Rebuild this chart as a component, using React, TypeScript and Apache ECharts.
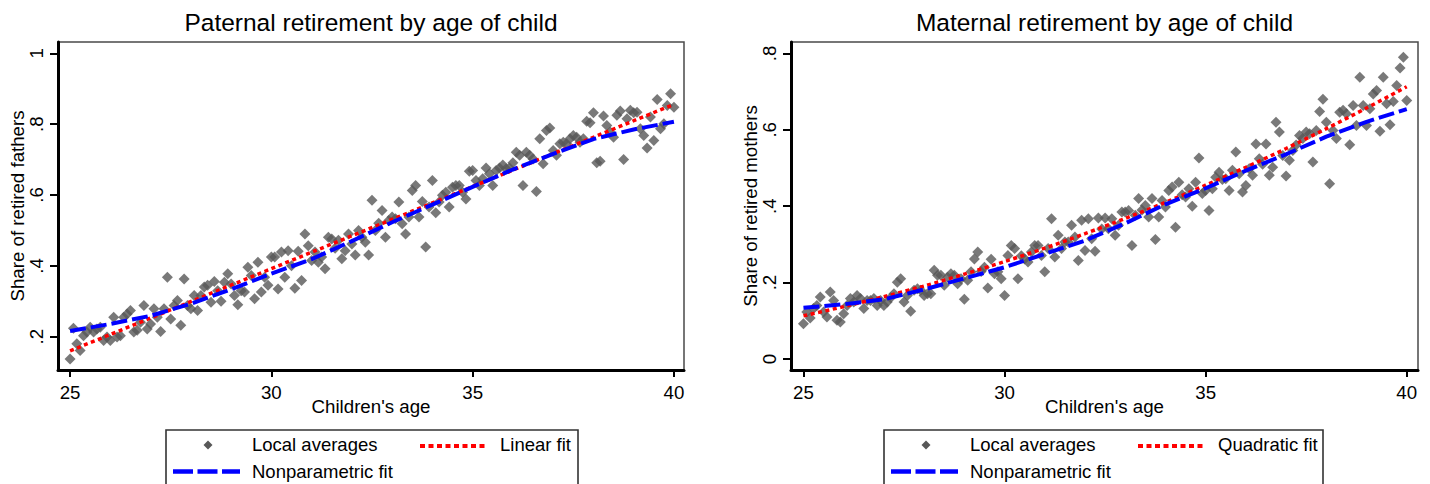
import React, { useEffect, useRef } from "react";
import * as echarts from "echarts";

// ---------- data ----------
// children's age grid (monthly, 25 .. 40)
const ages: number[] = Array.from({ length: 181 }, (_, i) => 25 + i / 12);

const fathersLocalAvg = [
  0.137, 0.224, 0.18, 0.161, 0.203, 0.213, 0.227, 0.213, 0.222, 0.227, 0.189, 0.199,
  0.189, 0.255, 0.199, 0.203, 0.255, 0.264, 0.274, 0.213, 0.218, 0.241, 0.288, 0.222, 0.236,
  0.279, 0.255, 0.215, 0.279, 0.368, 0.25, 0.288, 0.302, 0.232, 0.363, 0.288, 0.279,
  0.316, 0.274, 0.316, 0.34, 0.345, 0.297, 0.356, 0.33, 0.3, 0.354, 0.378, 0.349,
  0.316, 0.29, 0.33, 0.326, 0.396, 0.373, 0.307, 0.41, 0.326, 0.368, 0.345, 0.425,
  0.425, 0.335, 0.439, 0.368, 0.443, 0.4, 0.337, 0.441, 0.359, 0.49, 0.457, 0.415,
  0.439, 0.41, 0.425, 0.392, 0.481, 0.476, 0.45, 0.472, 0.42, 0.443, 0.49, 0.462,
  0.431, 0.5, 0.481, 0.467, 0.431, 0.585, 0.5, 0.52, 0.556, 0.481, 0.528, 0.538,
  0.533, 0.58, 0.519, 0.49, 0.538, 0.613, 0.627, 0.538, 0.582, 0.453, 0.566, 0.641,
  0.55, 0.58, 0.599, 0.608, 0.566, 0.622, 0.627, 0.627, 0.608, 0.589, 0.667, 0.669,
  0.641, 0.627, 0.646, 0.676, 0.66, 0.627, 0.669, 0.676, 0.685, 0.674, 0.676, 0.691,
  0.721, 0.712, 0.627, 0.721, 0.712, 0.702, 0.61, 0.759, 0.688, 0.782, 0.789, 0.726,
  0.712, 0.745, 0.749, 0.745, 0.759, 0.768, 0.763, 0.749, 0.759, 0.808, 0.804, 0.832,
  0.691, 0.695, 0.823, 0.796, 0.778, 0.763, 0.825, 0.837, 0.7, 0.815, 0.839, 0.832,
  0.834, 0.787, 0.768, 0.733, 0.82, 0.754, 0.87, 0.787, 0.801, 0.853, 0.886, 0.848,
];

const mothersLocalAvg = [
  0.092, 0.123, 0.107, 0.132, 0.14, 0.162, 0.123, 0.11, 0.175, 0.153, 0.101, 0.097,
  0.118, 0.14, 0.158, 0.149, 0.166, 0.158, 0.132, 0.153, 0.153, 0.158, 0.14, 0.153,
  0.14, 0.149, 0.16, 0.171, 0.201, 0.21, 0.149, 0.166, 0.125, 0.18, 0.184, 0.18,
  0.166, 0.171, 0.171, 0.232, 0.219, 0.219, 0.193, 0.214, 0.223, 0.219, 0.197, 0.21,
  0.156, 0.206, 0.228, 0.262, 0.28, 0.229, 0.24, 0.186, 0.261, 0.223, 0.228, 0.21,
  0.166, 0.271, 0.297, 0.289, 0.21, 0.27, 0.262, 0.254, 0.28, 0.297, 0.297, 0.271,
  0.228, 0.289, 0.367, 0.267, 0.324, 0.289, 0.306, 0.306, 0.35, 0.319, 0.258, 0.363,
  0.284, 0.367, 0.315, 0.282, 0.369, 0.34, 0.369, 0.341, 0.367, 0.324, 0.35, 0.385,
  0.385, 0.389, 0.297, 0.376, 0.42, 0.39, 0.402, 0.372, 0.42, 0.313, 0.372, 0.415,
  0.398, 0.441, 0.45, 0.345, 0.463, 0.43, 0.424, 0.446, 0.4, 0.463, 0.526, 0.433,
  0.441, 0.389, 0.446, 0.476, 0.489, 0.47, 0.472, 0.441, 0.494, 0.542, 0.485, 0.437,
  0.454, 0.498, 0.481, 0.563, 0.524, 0.51, 0.563, 0.481, 0.502, 0.62, 0.594, 0.533,
  0.479, 0.52, 0.546, 0.56, 0.585, 0.577, 0.594, 0.59, 0.516, 0.598, 0.648, 0.68,
  0.62, 0.459, 0.598, 0.577, 0.646, 0.651, 0.642, 0.561, 0.664, 0.611, 0.738, 0.664, 0.611,
  0.655, 0.694, 0.703, 0.596, 0.738, 0.668, 0.613, 0.674, 0.716, 0.762, 0.79, 0.677,
];

const fitAges = [25, 26, 27, 28, 29, 30, 31, 32, 33, 34, 35, 36, 37, 38, 39, 40];
const fathersNonparametric = [
  0.216, 0.236, 0.259, 0.293, 0.334, 0.378, 0.419, 0.47, 0.523, 0.573, 0.623, 0.672, 0.716, 0.758, 0.785, 0.807,
];
const mothersNonparametric = [
  0.134, 0.143, 0.156, 0.182, 0.211, 0.24, 0.275, 0.31, 0.355, 0.405, 0.447, 0.493, 0.536, 0.582, 0.621, 0.654,
];
const linearFitAges = [25, 40];
const fathersLinearFit = [0.16, 0.856];
const mothersQuadraticFit = [
  0.113, 0.137, 0.163, 0.191, 0.222, 0.255, 0.29, 0.328, 0.368, 0.41, 0.455, 0.502, 0.551, 0.603, 0.657, 0.713,
];

const xTickValues = [25, 30, 35, 40];
const fathersYTicks = [0.2, 0.4, 0.6, 0.8, 1];
const mothersYTicks = [0, 0.2, 0.4, 0.6, 0.8];

const leftTitle = "Paternal retirement by age of child";
const rightTitle = "Maternal retirement by age of child";
const xTitle = "Children's age";
const fathersYTitle = "Share of retired fathers";
const mothersYTitle = "Share of retired mothers";
const legendLocal = "Local averages";
const legendNonparam = "Nonparametric fit";
const legendLinear = "Linear fit";
const legendQuadratic = "Quadratic fit";

// ---------- styling ----------
const FONT = "'Liberation Sans', Arial, Helvetica, sans-serif";
const MARKER = "#585858";
const RED = "#ff0000";
const BLUE = "#0000ff";

const tickFmt = (v: any) => {
  const s = Number(v).toFixed(1);
  if (s === "0.0") return "0";
  if (s === "1.0") return "1";
  return s.replace(/^0/, "");
};

function makeX(gridIndex: number, min: number, max: number) {
  return {
    type: "value",
    gridIndex,
    min,
    max,
    name: xTitle,
    nameLocation: "middle",
    nameGap: 27,
    nameMoveOverlap: false,
    nameTextStyle: { fontFamily: FONT, fontSize: 18.7, color: "#000" },
    axisLine: { show: true, onZero: false, lineStyle: { color: "#000", width: 3 } },
    axisTick: { show: true, customValues: xTickValues, length: 7, lineStyle: { color: "#000", width: 2 } },
    axisLabel: {
      show: true,
      customValues: xTickValues,
      fontFamily: FONT,
      fontSize: 18.7,
      color: "#000",
      margin: 13,
    },
    splitLine: { show: false },
  };
}

function makeY(gridIndex: number, min: number, max: number, ticks: number[], name: string) {
  return {
    type: "value",
    gridIndex,
    min,
    max,
    name,
    nameLocation: "middle",
    nameGap: 31,
    nameRotate: 90,
    nameMoveOverlap: false,
    nameTextStyle: { fontFamily: FONT, fontSize: 18.7, color: "#000" },
    axisLine: { show: true, onZero: false, lineStyle: { color: "#000", width: 3 } },
    axisTick: { show: true, customValues: ticks, length: 8, lineStyle: { color: "#000", width: 2 } },
    axisLabel: {
      show: true,
      customValues: ticks,
      rotate: 90,
      formatter: tickFmt,
      fontFamily: FONT,
      fontSize: 18.7,
      color: "#000",
      margin: 12,
    },
    splitLine: { show: false },
  };
}

function txt(text: string, x: number, y: number, size: number, align = "left") {
  return {
    type: "text",
    x,
    y,
    silent: true,
    style: {
      text,
      fill: "#000",
      fontFamily: FONT,
      fontSize: size,
      align,
      textAlign: align,
      verticalAlign: "middle",
      textVerticalAlign: "middle",
    },
  };
}

function legendGraphics(x0: number, width: number, fitLabel: string) {
  const cx = x0 + 42;
  const cy = 445;
  return [
    {
      type: "rect",
      shape: { x: x0, y: 430, width, height: 80 },
      style: { fill: "#fff", stroke: "#333", lineWidth: 1.6 },
      silent: true,
    },
    {
      type: "polygon",
      shape: { points: [[cx, cy - 4.5], [cx + 4.5, cy], [cx, cy + 4.5], [cx - 4.5, cy]] },
      style: { fill: MARKER },
      silent: true,
    },
    txt(legendLocal, x0 + 86, 444.5, 18.5),
    {
      type: "line",
      shape: { x1: x0 + 254, y1: 446, x2: x0 + 322, y2: 446 },
      style: { stroke: RED, lineWidth: 4, lineDash: [5, 3.5] },
      silent: true,
    },
    txt(fitLabel, x0 + 334, 444.5, 18.5),
    {
      type: "line",
      shape: { x1: x0 + 7, y1: 471.5, x2: x0 + 74, y2: 471.5 },
      style: { stroke: BLUE, lineWidth: 4.5, lineDash: [20, 4.5] },
      silent: true,
    },
    txt(legendNonparam, x0 + 86, 471.5, 18.5),
  ];
}

export default function App() {
  const ref = useRef<HTMLDivElement>(null);

  useEffect(() => {
    if (!ref.current) return;
    const chart = echarts.init(ref.current, undefined, { renderer: "svg" });

    const scatter = (xi: number, values: number[]) => ({
      type: "scatter",
      xAxisIndex: xi,
      yAxisIndex: xi,
      symbol: "diamond",
      symbolSize: 11,
      itemStyle: { color: MARKER },
      data: ages.map((a, i) => [a, values[i]]),
      z: 2,
    });
    const fitLine = (xi: number, xs: number[], ys: number[], color: string, width: number, dash: number[], smooth: boolean | number, z: number) => ({
      type: "line",
      xAxisIndex: xi,
      yAxisIndex: xi,
      symbol: "none",
      smooth,
      lineStyle: { color, width, type: dash, cap: "butt" },
      data: xs.map((a, i) => [a, ys[i]]),
      z,
    });

    chart.setOption({
      animation: false,
      backgroundColor: "#fff",
      grid: [
        { left: 58, top: 42, width: 626, height: 328, show: true, borderColor: "#4a4a4a", borderWidth: 1.5, backgroundColor: "transparent" },
        { left: 791, top: 42, width: 627, height: 328, show: true, borderColor: "#4a4a4a", borderWidth: 1.5, backgroundColor: "transparent" },
      ],
      xAxis: [makeX(0, 24.7, 40.25), makeX(1, 24.69, 40.28)],
      yAxis: [
        makeY(0, 0.106, 1.032, fathersYTicks, fathersYTitle),
        makeY(1, -0.029, 0.83, mothersYTicks, mothersYTitle),
      ],
      series: [
        scatter(0, fathersLocalAvg),
        fitLine(0, linearFitAges, fathersLinearFit, RED, 3.5, [4, 3.5], false, 3),
        fitLine(0, fitAges, fathersNonparametric, BLUE, 4, [16, 5], false, 4),
        scatter(1, mothersLocalAvg),
        fitLine(1, fitAges, mothersQuadraticFit, RED, 3.5, [4, 3.5], 0.3, 3),
        fitLine(1, fitAges, mothersNonparametric, BLUE, 4, [16, 5], false, 4),
      ],
      graphic: [
        txt(leftTitle, 371, 22, 24.5, "center"),
        txt(rightTitle, 1104.5, 22, 24.5, "center"),
        ...legendGraphics(166, 412, legendLinear),
        ...legendGraphics(884, 439, legendQuadratic),
      ],
    });

    return () => chart.dispose();
  }, []);

  return (
    <div
      ref={ref}
      style={{ position: "fixed", left: 0, top: 0, width: 1430, height: 484, background: "#fff" }}
    />
  );
}
